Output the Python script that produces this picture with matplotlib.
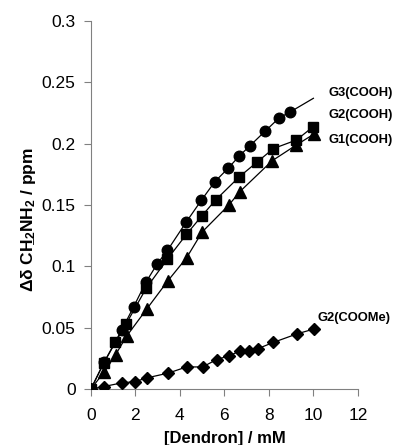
import matplotlib
matplotlib.use("Agg")
import matplotlib.pyplot as plt

plt.rcParams["font.family"] = ["Liberation Sans", "DejaVu Sans"]
plt.rcParams["mathtext.fontset"] = "custom"
plt.rcParams["mathtext.rm"] = "Liberation Sans"
plt.rcParams["mathtext.it"] = "Liberation Sans:italic"
plt.rcParams["mathtext.bf"] = "Liberation Sans:bold"
plt.rcParams["mathtext.default"] = "bf"

# G3(COOH) - circles
g3_x = [0, 0.6, 1.38, 1.92, 2.47, 2.98, 3.44, 4.28, 4.97, 5.57, 6.17, 6.67, 7.13, 7.82, 8.46, 8.97]
g3_y = [0, 0.022, 0.048, 0.067, 0.087, 0.102, 0.113, 0.136, 0.154, 0.169, 0.180, 0.190, 0.198, 0.210, 0.221, 0.226]
g3_fit_end = (10.0, 0.237)

# G2(COOH) - squares
g2_x = [0, 0.57, 1.1, 1.58, 2.48, 3.44, 4.29, 4.98, 5.6, 6.67, 7.47, 8.2, 9.24, 10.0]
g2_y = [0, 0.021, 0.038, 0.053, 0.082, 0.106, 0.126, 0.141, 0.154, 0.173, 0.185, 0.196, 0.203, 0.214]

# G1(COOH) - triangles
g1_x = [0, 0.6, 1.11, 1.6, 2.5, 3.45, 4.3, 5.0, 6.2, 6.7, 8.14, 9.24, 10.04]
g1_y = [0, 0.014, 0.028, 0.043, 0.065, 0.088, 0.107, 0.128, 0.150, 0.161, 0.186, 0.199, 0.208]

# G2(COOMe) - diamonds
me_x = [0, 0.58, 1.38, 1.98, 2.5, 3.48, 4.3, 5.02, 5.65, 6.2, 6.7, 7.12, 7.52, 8.2, 9.27, 10.04]
me_y = [0, 0.002, 0.005, 0.006, 0.009, 0.013, 0.018, 0.018, 0.024, 0.027, 0.031, 0.031, 0.033, 0.038, 0.045, 0.049]

x_ticks = [0, 2, 4, 6, 8, 10, 12]
y_ticks = [0, 0.05, 0.1, 0.15, 0.2, 0.25, 0.3]
y_ticklabels = ["0", "0.05", "0.1", "0.15", "0.2", "0.25", "0.3"]

fig = plt.figure(figsize=(3.97, 4.45), dpi=100)
ax = fig.add_axes([0.229, 0.1258, 0.6725, 0.827])

lw = 0.9
ax.plot(g3_x + [g3_fit_end[0]], g3_y + [g3_fit_end[1]], color="black", lw=lw, zorder=2)
ax.plot(g3_x, g3_y, "o", color="black", ms=7.6, zorder=3)
ax.plot(g2_x, g2_y, "s-", color="black", lw=lw, ms=7.2, zorder=3)
ax.plot(g1_x, g1_y, "^-", color="black", lw=lw, ms=8.0, zorder=3)
ax.plot(me_x, me_y, "D-", color="black", lw=lw, ms=5.8, zorder=3)

lab_kw = dict(fontsize=9.3, fontweight="bold", ha="left", va="center")
ax.text(10.7, 0.241, "G3(COOH)", **lab_kw)
ax.text(10.7, 0.223, "G2(COOH)", **lab_kw)
ax.text(10.7, 0.203, "G1(COOH)", **lab_kw)
ax.text(10.2, 0.0575, "G2(COOMe)", **lab_kw)

ax.set_xlim(0, 12)
ax.set_ylim(0, 0.3)
ax.set_xticks(x_ticks)
ax.set_yticks(y_ticks)
ax.set_yticklabels(y_ticklabels)
ax.tick_params(axis="both", direction="out", length=5, width=0.8, color="#808080",
               labelsize=12.5, labelcolor="black")
ax.tick_params(axis="x", pad=9)
ax.tick_params(axis="y", pad=6)
for side in ["top", "right"]:
    ax.spines[side].set_visible(False)
for side in ["left", "bottom"]:
    ax.spines[side].set_color("#808080")
    ax.spines[side].set_linewidth(0.8)

ax.set_xlabel("[Dendron] / mM", fontsize=12, fontweight="bold")
ax.xaxis.set_label_coords(0.5, -0.113)
ax.set_ylabel("Δδ CH\u0332$_2$NH$_2$ / ppm", fontsize=12.5, fontweight="bold")
ax.yaxis.set_label_coords(-0.2, 0.46)

fig.savefig("out.png", dpi=100)
